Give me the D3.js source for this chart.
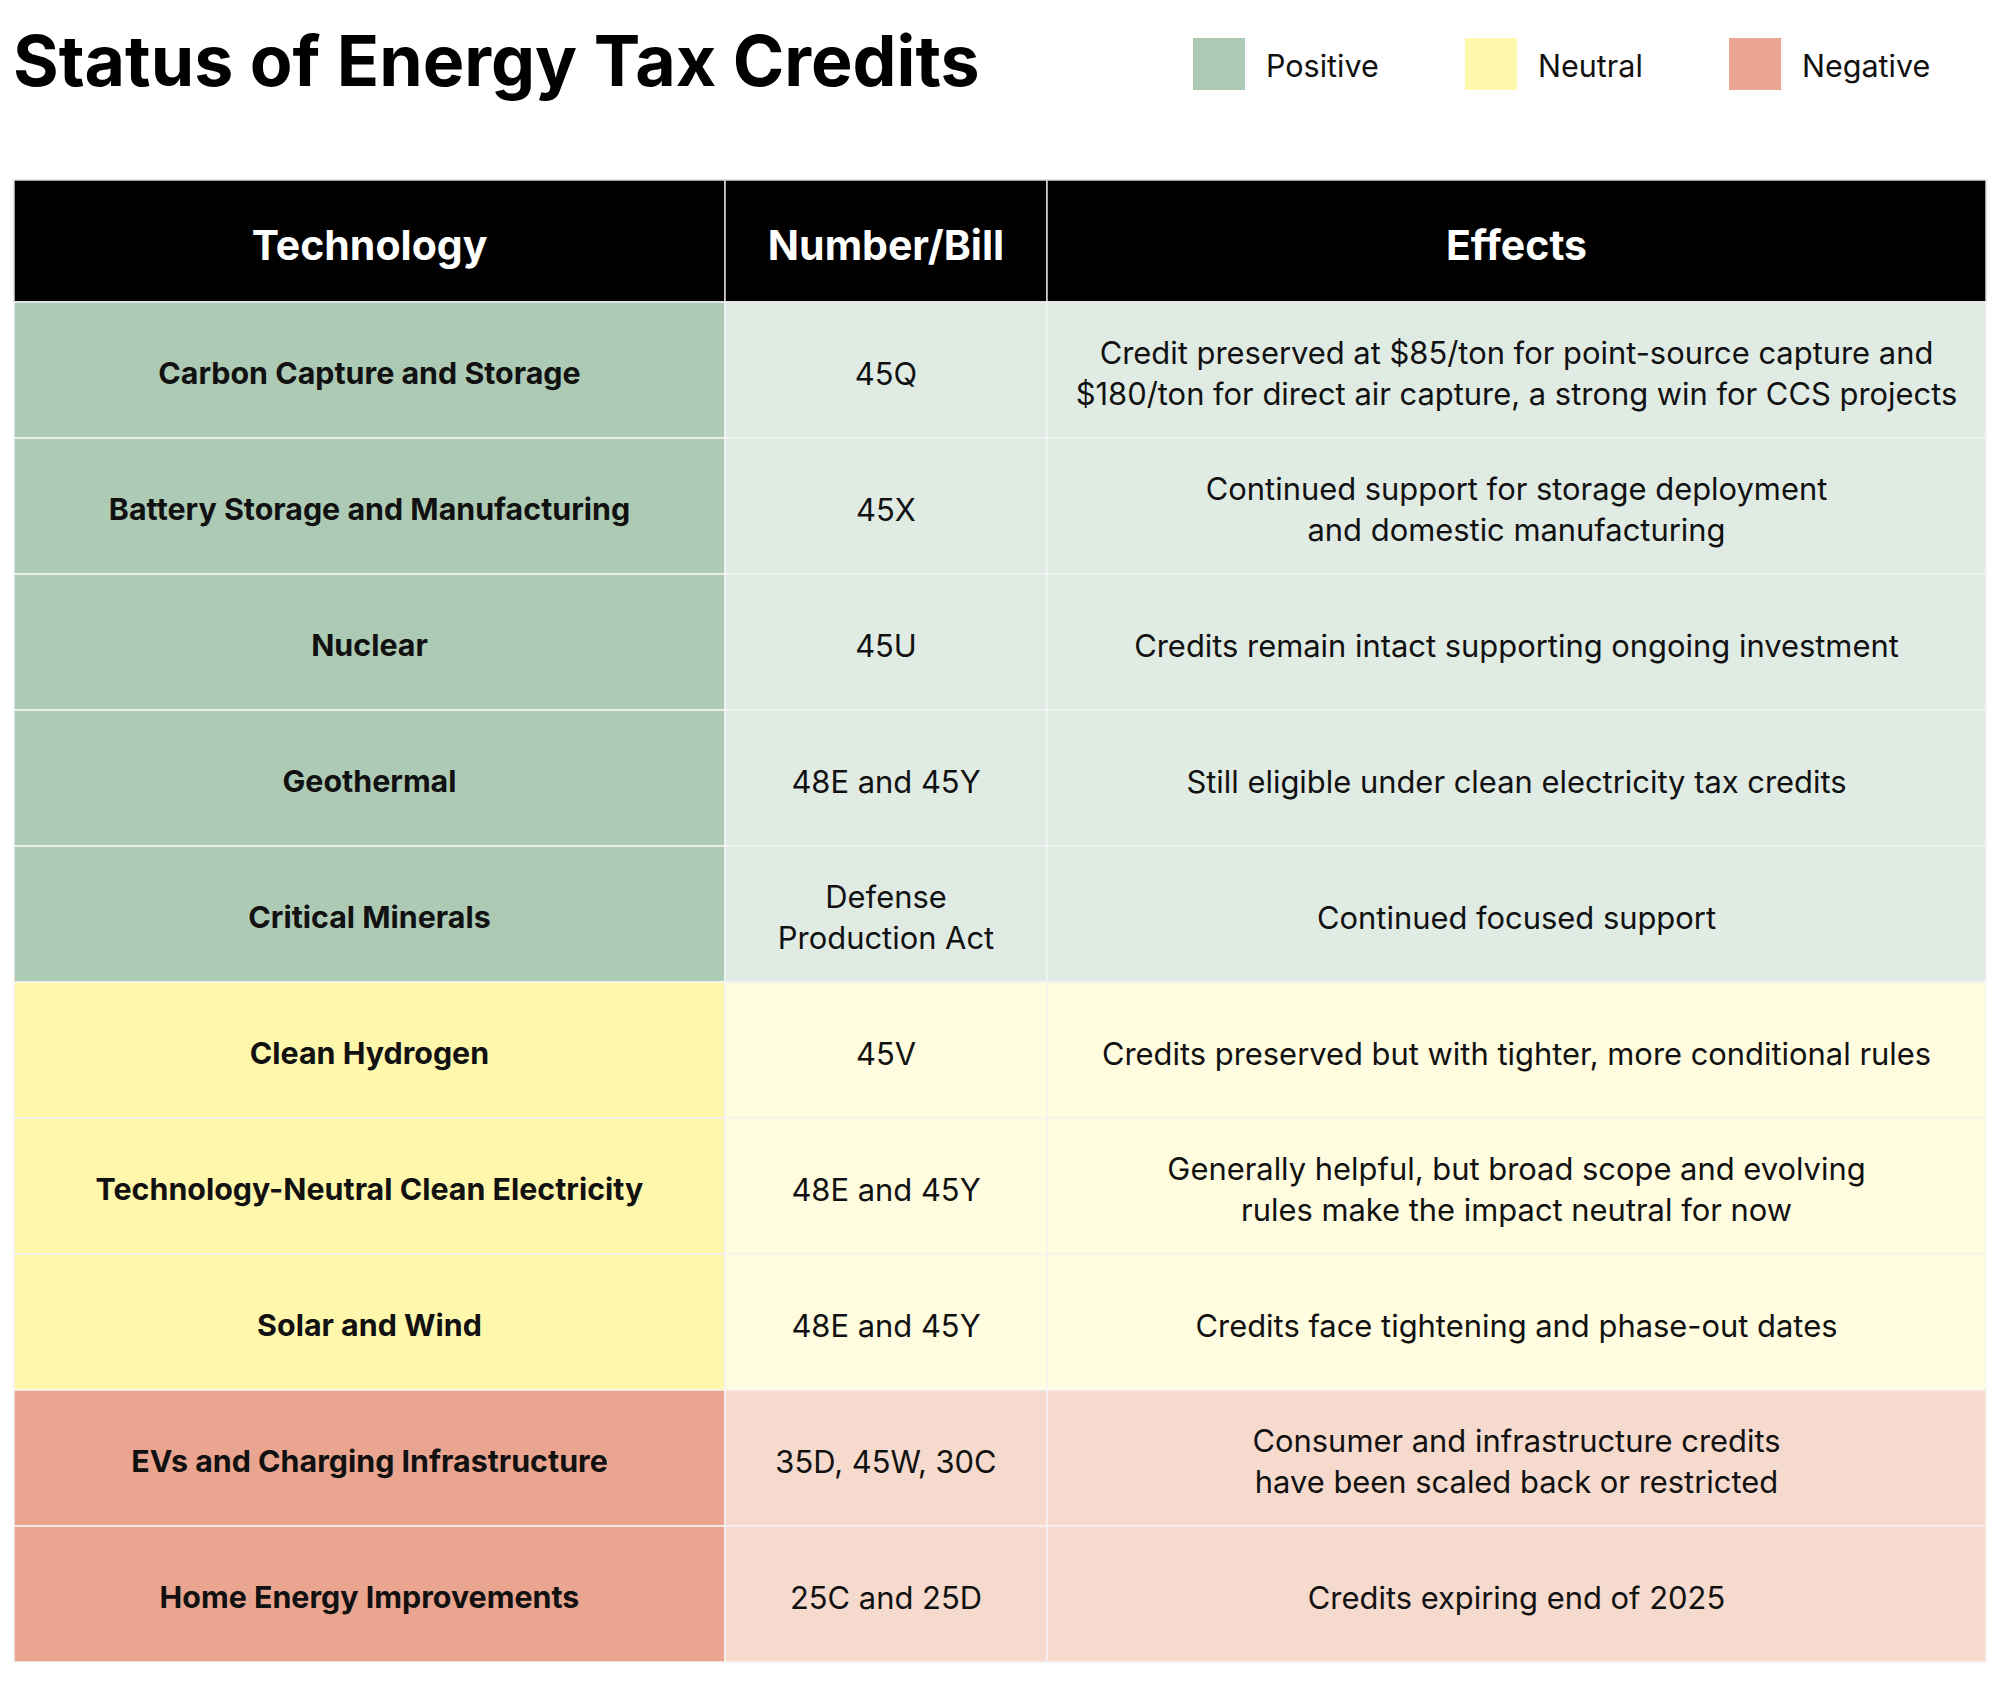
<!DOCTYPE html>
<html><head><meta charset="utf-8">
<script src="https://cdn.jsdelivr.net/npm/d3@7"></script>
<style>html,body{margin:0;padding:0;background:#fff;}svg{display:block;}</style>
</head><body>
<script>
const title = "Status of Energy Tax Credits";
const columns = ["Technology", "Number/Bill", "Effects"];
const statuses = ["Positive", "Neutral", "Negative"];
const strongColors = ["#adcab5", "#fef7ac", "#e9a58f"];
const lightColors = ["#e0ebe4", "#fffcdf", "#f5dacd"];
const technologies = ["Carbon Capture and Storage","Battery Storage and Manufacturing","Nuclear","Geothermal","Critical Minerals","Clean Hydrogen","Technology-Neutral Clean Electricity","Solar and Wind","EVs and Charging Infrastructure","Home Energy Improvements"];
const bills = [["45Q"],["45X"],["45U"],["48E and 45Y"],["Defense","Production Act"],["45V"],["48E and 45Y"],["48E and 45Y"],["35D, 45W, 30C"],["25C and 25D"]];
const effects = [
 ["Credit preserved at $85/ton for point-source capture and","$180/ton for direct air capture, a strong win for CCS projects"],
 ["Continued support for storage deployment","and domestic manufacturing"],
 ["Credits remain intact supporting ongoing investment"],
 ["Still eligible under clean electricity tax credits"],
 ["Continued focused support"],
 ["Credits preserved but with tighter, more conditional rules"],
 ["Generally helpful, but broad scope and evolving","rules make the impact neutral for now"],
 ["Credits face tightening and phase-out dates"],
 ["Consumer and infrastructure credits","have been scaled back or restricted"],
 ["Credits expiring end of 2025"]];
const rowStatus = ["Positive","Positive","Positive","Positive","Positive","Neutral","Neutral","Neutral","Negative","Negative"];

const W = 2000, H = 1701;
const font = "Inter, 'Noto Sans', sans-serif";
const svg = d3.select("body").append("svg").attr("width", W).attr("height", H);

svg.append("text").attr("x", 13).attr("y", 86).text(title)
  .attr("font-family", font).attr("font-weight", 700).attr("font-size", 69.8).attr("fill", "#000");

// legend
const strong = d3.scaleOrdinal().domain(statuses).range(strongColors);
const light = d3.scaleOrdinal().domain(statuses).range(lightColors);
const legX = d3.scaleOrdinal().domain(statuses).range([1193, 1465, 1729]);
const leg = svg.append("g").selectAll("g").data(statuses).join("g")
  .attr("transform", d => `translate(${legX(d)},38)`);
leg.append("rect").attr("width", 52).attr("height", 52).attr("fill", d => strong(d));
leg.append("text").attr("x", 73).attr("y", 27).attr("dominant-baseline", "central")
  .attr("font-family", font).attr("font-size", 30.5).attr("fill", "#111").text(d => d);

// table
const colEdges = [14, 725, 1047, 1986];
const headTop = 180, headH = 122, rowH = 136;
const y = d3.scaleBand().domain(d3.range(technologies.length)).range([headTop + headH, headTop + headH + rowH * technologies.length]).padding(0);
const colX = i => colEdges[i], colW = i => colEdges[i + 1] - colEdges[i];

const head = svg.append("g");
head.selectAll("rect").data(columns).join("rect")
  .attr("x", (d, i) => colX(i)).attr("y", headTop).attr("width", (d, i) => colW(i)).attr("height", headH)
  .attr("fill", "#000").attr("stroke", "#d9d9d9").attr("stroke-width", 1.5);
head.selectAll("text").data(columns).join("text")
  .attr("x", (d, i) => colX(i) + colW(i) / 2).attr("y", headTop + headH / 2 + 4)
  .attr("text-anchor", "middle").attr("dominant-baseline", "central")
  .attr("font-family", font).attr("font-weight", 700).attr("font-size", 41).attr("fill", "#fff").text(d => d);

const rows = svg.append("g").selectAll("g").data(technologies).join("g")
  .attr("transform", (d, i) => `translate(0,${y(i)})`);
const cellData = (d, i) => [
  {lines: [d], fill: strong(rowStatus[i]), bold: true},
  {lines: bills[i], fill: light(rowStatus[i]), bold: false},
  {lines: effects[i], fill: light(rowStatus[i]), bold: false}];
const cells = rows.selectAll("g").data(cellData).join("g");
cells.append("rect").attr("x", (c, j) => colX(j)).attr("y", 0).attr("width", (c, j) => colW(j)).attr("height", y.bandwidth())
  .attr("fill", c => c.fill).attr("stroke", "#f4f4f4").attr("stroke-width", 1.5);
const lh = 41;
cells.append("text").attr("text-anchor", "middle")
  .attr("font-family", font).attr("font-size", c => c.bold ? 30.4 : 30.9).attr("font-weight", c => c.bold ? 700 : 400).attr("fill", "#111")
  .each(function(c, j) {
    const t = d3.select(this);
    const n = c.lines.length;
    c.lines.forEach((l, k) => {
      t.append("tspan").attr("x", colX(j) + colW(j) / 2)
        .attr("y", rowH / 2 + 3 + (k - (n - 1) / 2) * lh).attr("dominant-baseline", "central").text(l);
    });
  });
</script>
</body></html>
